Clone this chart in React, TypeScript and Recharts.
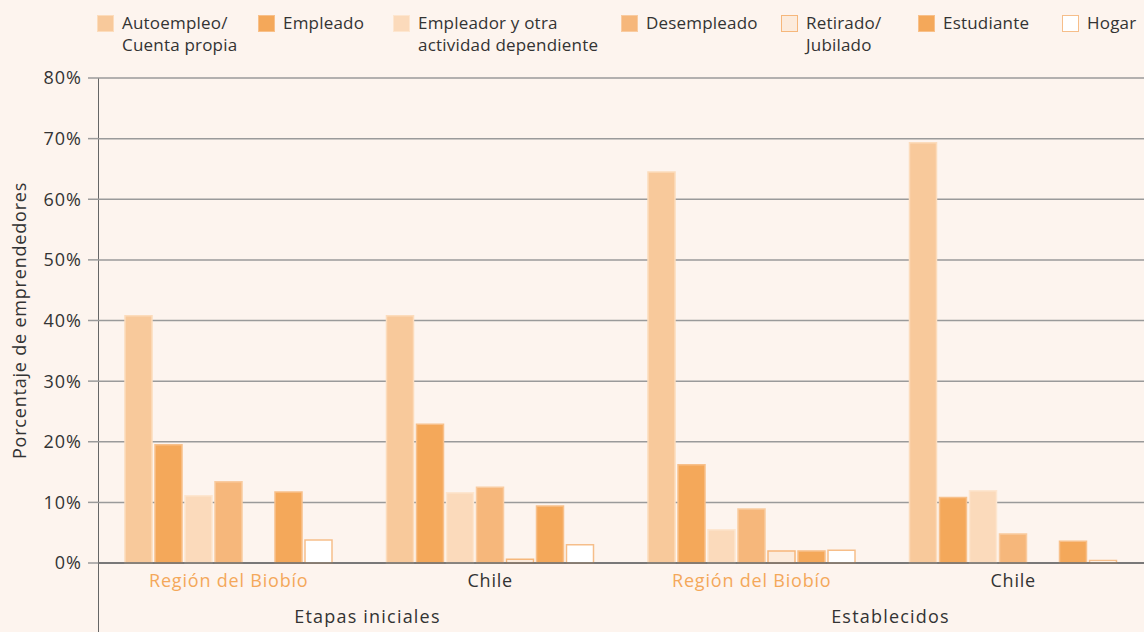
import { BarChart, Bar, XAxis, YAxis, CartesianGrid } from "recharts"

const groups = ["Región del Biobío", "Chile", "Región del Biobío", "Chile"]
const stages = ["Etapas iniciales", "Etapas iniciales", "Establecidos", "Establecidos"]

const autoempleo = [40.8, 40.8, 64.5, 69.3]
const empleado = [19.5, 22.9, 16.2, 10.8]
const empleador = [11.1, 11.6, 5.5, 11.9]
const desempleado = [13.4, 12.5, 8.9, 4.8]
const retirado = [0, 0.6, 2.0, 0]
const estudiante = [11.7, 9.4, 2.0, 3.6]
const hogar = [3.8, 3.0, 2.1, 0.4]

const yTicks = [0, 10, 20, 30, 40, 50, 60, 70, 80]

const seriesList = [
  { key: "autoempleo", label: ["Autoempleo/", "Cuenta propia"], fill: "#f8c99b", stroke: "#fcdcbc", left: 97 },
  { key: "empleado", label: ["Empleado"], fill: "#f4a85a", stroke: "#f8c08a", left: 258 },
  { key: "empleador", label: ["Empleador y otra", "actividad dependiente"], fill: "#fbdabb", stroke: "#fde6d0", left: 393 },
  { key: "desempleado", label: ["Desempleado"], fill: "#f6b77b", stroke: "#f9cba0", left: 621 },
  { key: "retirado", label: ["Retirado/", "Jubilado"], fill: "#fcebdc", stroke: "#f6b77b", left: 781 },
  { key: "estudiante", label: ["Estudiante"], fill: "#f4a85a", stroke: "#f8c08a", left: 918 },
  { key: "hogar", label: ["Hogar"], fill: "#ffffff", stroke: "#f6be8a", left: 1062 },
]

const data = groups.map((g, i) => ({
  group: g,
  stage: stages[i],
  autoempleo: autoempleo[i],
  empleado: empleado[i],
  empleador: empleador[i],
  desempleado: desempleado[i],
  retirado: retirado[i],
  estudiante: estudiante[i],
  hogar: hogar[i],
}))

const font = "'Open Sans', 'DejaVu Sans', sans-serif"
const textColor = "#333333"

function GroupTick(props: any) {
  const { x, y, payload } = props
  const isRegion = payload.value === "Región del Biobío"
  return (
    <text x={x} y={y} dy={16} textAnchor="middle" fontSize={18} fontFamily={font}
      letterSpacing={0.8} fill={isRegion ? "#f4a85a" : textColor}>
      {payload.value}
    </text>
  )
}

function StageTick(props: any) {
  const { x, y, payload } = props
  return (
    <text x={x} y={y} dx={8} dy={18} textAnchor="middle" fontSize={18} fontFamily={font}
      letterSpacing={1.2} fill={textColor}>
      {payload.value}
    </text>
  )
}

export default function App() {
  return (
    <div style={{ position: "absolute", left: 0, top: 0, width: 1144, height: 632, background: "#fdf4ee", fontFamily: font, color: textColor }}>
      {seriesList.map((s) => (
        <div key={s.key} style={{ position: "absolute", left: s.left, top: 12, display: "flex", alignItems: "flex-start" }}>
          <div style={{ width: 15, height: 15, marginTop: 3, marginRight: 8, background: s.fill, border: `1px solid ${s.stroke}` }} />
          <div style={{ fontSize: 17, lineHeight: "22px", whiteSpace: "nowrap", letterSpacing: 0.2 }}>
            {s.label.map((l) => (
              <div key={l}>{l}</div>
            ))}
          </div>
        </div>
      ))}
      <div style={{ position: "absolute", left: 98, top: 78, width: 1, height: 554, background: "#666" }} />
      <div style={{ position: "absolute", left: 0, top: 0 }}>
        <BarChart width={1144} height={632} data={data} margin={{ top: 78, right: 0, bottom: 0, left: 0 }}
          barGap={3} barCategoryGap="10%">
          <CartesianGrid vertical={false} stroke="#9a9a9a" strokeWidth={1.5} />
          <XAxis dataKey="group" xAxisId={0} height={34} tickLine={false} axisLine={{ stroke: "#666", strokeWidth: 1.5 }}
            tick={<GroupTick />} interval={0} />
          <XAxis dataKey="stage" xAxisId="stage" height={35} tickLine={false} axisLine={false}
            allowDuplicatedCategory={false} tick={<StageTick />} interval={0} />
          <YAxis domain={[0, 80]} ticks={yTicks} width={98} axisLine={false} tickSize={10}
            tickLine={{ stroke: "#9a9a9a", strokeWidth: 1.5 }} tickMargin={6}
            tickFormatter={(v: number) => `${v}%`}
            tick={{ fontSize: 18, fontFamily: font, letterSpacing: 1, fill: textColor }}
            label={{ value: "Porcentaje de emprendedores", angle: -90, position: "insideLeft", offset: 20, style: { fontSize: 18, fontFamily: font, letterSpacing: 0.8, fill: textColor, textAnchor: "middle" } }} />
          {seriesList.map((s) => (
            <Bar key={s.key} dataKey={s.key} xAxisId={0} barSize={27} fill={s.fill} stroke={s.stroke}
              strokeWidth={1.5} isAnimationActive={false} />
          ))}
        </BarChart>
      </div>
    </div>
  )
}
